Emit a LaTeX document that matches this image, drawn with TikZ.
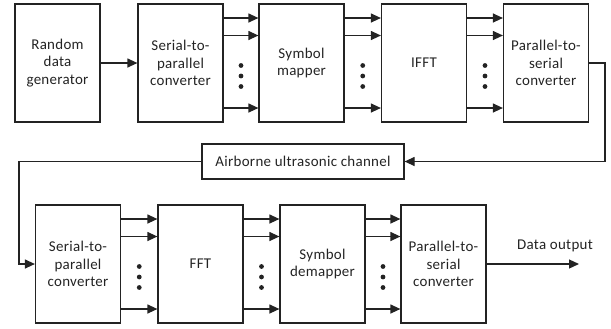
\documentclass[tikz,border=0pt]{standalone}
\usepackage{fontspec}
\setmainfont{Carlito}[LetterSpace=2]
\usetikzlibrary{arrows.meta,calc}
\definecolor{ink}{RGB}{35,35,35}
\begin{document}
\begin{tikzpicture}[x=1bp,y=-1bp,
  ink, line width=1.2bp,
  blk/.style={draw=ink, minimum width=85bp, minimum height=118bp, align=center, inner sep=0pt, text=ink,
    font=\fontsize{15}{17.5}\selectfont},
  arr/.style={-{Triangle[length=10bp,width=9bp]}, draw=ink},
  dotmark/.style={fill=ink, draw=none},
  lbl/.style={text=ink, font=\fontsize{15}{17.5}\selectfont, inner sep=0pt}]
\useasboundingbox (0,0) rectangle (611,328);
% top row
\node[blk] (rand) at (57.5,63) {Random\\data\\generator};
\node[blk] (s2p) at (180.5,63) {Serial-to-\\parallel\\converter};
\node[blk] (map) at (301.5,63) {Symbol\\mapper};
\node[blk] (ifft) at (424,63) {IFFT};
\node[blk] (p2s) at (546,63) {Parallel-to-\\serial\\converter};
% channel
\node[blk, minimum width=202bp, minimum height=35bp] (chan) at (303,161.5) {Airborne ultrasonic channel};
% bottom row
\node[blk] (s2pb) at (78,264) {Serial-to-\\parallel\\converter};
\node[blk] (fft) at (200.5,264) {FFT};
\node[blk] (demap) at (322.5,264) {Symbol\\demapper};
\node[blk] (p2sb) at (443.5,264) {Parallel-to-\\serial\\converter};
% serial links
\draw[arr] (rand.east) -- (s2p.west);
\foreach \a/\b in {s2p/map, map/ifft, ifft/p2s, s2pb/fft, fft/demap, demap/p2sb}{
  \foreach \dy in {-45,-27.5,45}{
    \draw[arr] ($(\a.east)+(0,\dy)$) -- ($(\b.west)+(0,\dy)$);
  }
  \foreach \dy in {2.5,13,23.5}{
    \fill[dotmark] ($($(\a.east)!0.5!(\b.west)$)+(0,\dy)$) circle (2.4bp);
  }
}
% loop to channel and back
\coordinate (turnA) at (605,63);
\coordinate (turnB) at (19,161.5);
\draw[arr] (p2s.east) -- (turnA) |- (chan.east);
\draw[arr] (chan.west) -- (turnB) |- (s2pb.west);
% output
\coordinate (outend) at (579,264);
\draw[arr] (p2sb.east) -- (outend);
\node[lbl] (outlbl) at (555,246) {Data output};
\end{tikzpicture}
\end{document}
